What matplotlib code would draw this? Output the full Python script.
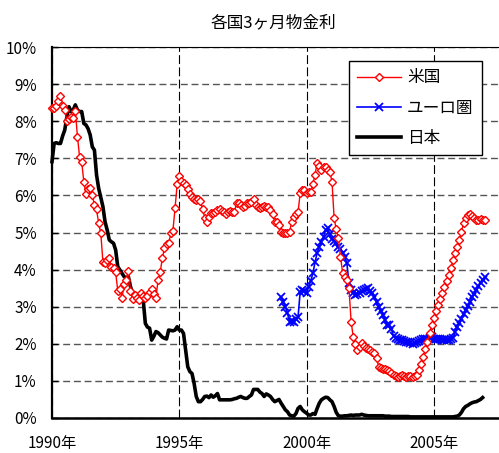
import matplotlib
matplotlib.use("Agg")
import matplotlib.pyplot as plt
import numpy as np

plt.rcParams['font.family'] = ['Noto Sans CJK JP', 'DejaVu Sans']

# monthly 3-month rates (%)
us_start = 1990.0  # Jan 1990
us_rate = [
    8.36, 8.36, 8.40, 8.55, 8.69, 8.41, 8.30, 8.00, 8.05, 8.12, 8.08, 8.28,
    7.58, 7.04, 6.90, 6.37, 6.03, 6.16, 6.19, 6.00, 5.74, 5.62, 5.25, 4.98,
    4.21, 4.17, 4.25, 4.30, 4.06, 4.03, 3.93, 3.43, 3.49, 3.23, 3.61, 3.72,
    3.97, 3.43, 3.20, 3.32, 3.23, 3.18, 3.36, 3.30, 3.23, 3.28, 3.40, 3.48,
    3.35, 3.23, 3.72, 3.93, 4.30, 4.57, 4.70, 4.71, 4.98, 5.05, 5.65, 6.30,
    6.52, 6.40, 6.33, 6.28, 6.16, 6.05, 5.95, 5.89, 5.88, 5.90, 5.85, 5.62,
    5.40, 5.29, 5.43, 5.52, 5.53, 5.55, 5.60, 5.62, 5.58, 5.55, 5.50, 5.55,
    5.58, 5.56, 5.56, 5.80, 5.79, 5.75, 5.70, 5.72, 5.79, 5.80, 5.82, 5.89,
    5.75, 5.70, 5.65, 5.70, 5.72, 5.70, 5.68, 5.61, 5.50, 5.29, 5.27, 5.20,
    5.02, 5.00, 4.98, 5.00, 5.02, 5.29, 5.43, 5.50, 5.56, 6.06, 6.15, 6.15,
    6.06, 6.10, 6.10, 6.31, 6.55, 6.88, 6.78, 6.68, 6.77, 6.77, 6.68, 6.62,
    6.37, 5.38, 5.09, 4.85, 4.35, 3.92, 3.81, 3.72, 3.50, 2.60, 2.19, 1.99,
    1.83, 1.92, 2.01, 1.95, 1.90, 1.85, 1.83, 1.78, 1.74, 1.61, 1.38, 1.35,
    1.33, 1.31, 1.29, 1.26, 1.20, 1.16, 1.12, 1.11, 1.13, 1.16, 1.12, 1.11,
    1.12, 1.13, 1.10, 1.12, 1.16, 1.29, 1.45, 1.65, 1.85, 2.05, 2.28, 2.50,
    2.70, 2.88, 3.05, 3.22, 3.38, 3.53, 3.68, 3.85, 4.05, 4.26, 4.44, 4.62,
    4.80, 5.02, 5.25, 5.38, 5.47, 5.50, 5.45, 5.38, 5.35, 5.34, 5.36, 5.34,
    5.35,
]

euro_start = 1999.0  # Jan 1999
euro_rate = [
    3.27, 3.14, 3.00, 2.82, 2.60, 2.62, 2.60, 2.66, 2.73, 3.40, 3.45, 3.41,
    3.38, 3.54, 3.70, 3.90, 4.20, 4.45, 4.62, 4.75, 4.88, 5.07, 5.11, 4.95,
    4.82, 4.78, 4.71, 4.62, 4.55, 4.45, 4.35, 4.17, 3.63, 3.45, 3.36, 3.32,
    3.34, 3.38, 3.42, 3.45, 3.48, 3.50, 3.42, 3.36, 3.27, 3.12, 3.00, 2.88,
    2.78, 2.65, 2.52, 2.50, 2.40, 2.20, 2.15, 2.12, 2.10, 2.10, 2.08, 2.06,
    2.05, 2.03, 2.00, 2.03, 2.06, 2.08, 2.10, 2.12, 2.12, 2.14, 2.15, 2.17,
    2.14, 2.13, 2.12, 2.12, 2.11, 2.10, 2.10, 2.11, 2.12, 2.15, 2.33, 2.45,
    2.55, 2.68, 2.80, 2.91, 3.02, 3.12, 3.25, 3.35, 3.45, 3.55, 3.64, 3.72,
    3.79,
]

jp_start = 1990.0  # Jan 1990
jp_rate = [
    6.91, 7.40, 7.42, 7.40, 7.40, 7.60, 7.76, 8.12, 8.39, 8.26, 8.30, 8.44,
    8.30, 8.26, 8.26, 7.94, 7.90, 7.80, 7.63, 7.31, 7.22, 6.55, 6.19, 5.95,
    5.70, 5.29, 5.07, 4.80, 4.75, 4.71, 4.53, 4.08, 3.99, 3.90, 3.81, 3.78,
    3.81, 3.54, 3.36, 3.30, 3.27, 3.26, 3.25, 3.18, 2.55, 2.45, 2.42, 2.10,
    2.20, 2.33, 2.30, 2.24, 2.18, 2.15, 2.13, 2.37, 2.36, 2.35, 2.37, 2.46,
    2.37, 2.37, 2.28, 1.83, 1.38, 1.25, 1.20, 0.93, 0.58, 0.44, 0.44, 0.50,
    0.58, 0.59, 0.55, 0.62, 0.56, 0.60, 0.66, 0.49, 0.49, 0.49, 0.49, 0.49,
    0.49, 0.50, 0.52, 0.53, 0.56, 0.58, 0.55, 0.53, 0.53, 0.58, 0.62, 0.77,
    0.77, 0.77, 0.70, 0.66, 0.58, 0.65, 0.62, 0.58, 0.50, 0.44, 0.47, 0.50,
    0.40, 0.31, 0.22, 0.17, 0.08, 0.06, 0.05, 0.12, 0.26, 0.31, 0.22, 0.17,
    0.13, 0.08, 0.08, 0.12, 0.10, 0.26, 0.40, 0.49, 0.53, 0.56, 0.55, 0.49,
    0.44, 0.31, 0.15, 0.06, 0.05, 0.05, 0.06, 0.06, 0.07, 0.08, 0.07, 0.08,
    0.08, 0.08, 0.10, 0.08, 0.07, 0.06, 0.06, 0.06, 0.06, 0.06, 0.06, 0.06,
    0.06, 0.05, 0.05, 0.05, 0.04, 0.04, 0.04, 0.04, 0.04, 0.04, 0.04, 0.04,
    0.04, 0.03, 0.03, 0.03, 0.03, 0.03, 0.03, 0.03, 0.03, 0.03, 0.03, 0.03,
    0.03, 0.03, 0.03, 0.03, 0.03, 0.03, 0.03, 0.03, 0.03, 0.03, 0.04, 0.05,
    0.08, 0.15, 0.25, 0.31, 0.34, 0.38, 0.41, 0.43, 0.44, 0.47, 0.50, 0.55,
]

labels = ['米国', 'ユーロ圏', '日本']
title = '各国3ヶ月物金利'
year_ticks = [1990, 1995, 2000, 2005]
pct_ticks = list(range(0, 11))


def months(start, n):
    return start + np.arange(n) / 12.0


fig = plt.figure(figsize=(4.99, 4.53), dpi=100)
ax = fig.add_axes([52 / 499, 35 / 453, 447 / 499, 371 / 453])

l_jp, = ax.plot(months(jp_start, len(jp_rate)), jp_rate, color='black', lw=2.6,
                solid_joinstyle='round', clip_on=False, zorder=3)
l_eu, = ax.plot(months(euro_start, len(euro_rate)), euro_rate, color='#0000ff', lw=1.2,
                marker='x', ms=5.5, mew=1.3, zorder=4)
l_us, = ax.plot(months(us_start, len(us_rate)), us_rate, color='#ff0000', lw=1.0,
                marker='D', ms=4.2, mew=1.0, mfc='white', mec='#ff0000', clip_on=False, zorder=5)

ax.set_xlim(1990, 2007.56)
ax.set_ylim(0, 10)

ax.set_xticks(year_ticks)
ax.set_xticklabels([f'{y}年' for y in year_ticks])
ax.set_yticks(pct_ticks)
ax.set_yticklabels([f'{p}%' for p in pct_ticks])
ax.tick_params(axis='x', length=0, pad=12.5, labelsize=11)
ax.tick_params(axis='y', direction='in', length=4, width=1, pad=11, labelsize=11)

ax.yaxis.grid(True, color='#555555', lw=1.0, linestyle=(0, (5, 2.7)))
ax.xaxis.grid(True, color='black', lw=0.8, linestyle=(0, (8, 3)))
ax.set_axisbelow(True)

ax.spines['right'].set_visible(False)
ax.spines['top'].set_linewidth(0.8)
ax.spines['left'].set_linewidth(1.6)
ax.spines['bottom'].set_linewidth(1.8)

fig.text(273 / 499, 1 - 23 / 453, title, ha='center', va='center', fontsize=12)

leg = ax.legend([l_us, l_eu, l_jp], labels, loc='upper right',
                bbox_to_anchor=(0.962, 0.962), borderaxespad=0, fontsize=12,
                fancybox=False, framealpha=1, edgecolor='black',
                handlelength=2.6, handletextpad=0.4, labelspacing=0.8, borderpad=0.5)
leg.get_frame().set_linewidth(1.0)

fig.savefig('out.png', dpi=100)
